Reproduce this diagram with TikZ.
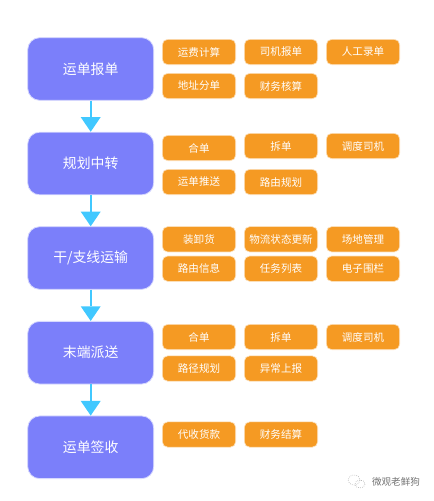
\documentclass[tikz,border=0pt]{standalone}
\usepackage{fontspec}
\setmainfont{Noto Sans CJK SC}
\usetikzlibrary{arrows.meta}
\definecolor{stageblue}{HTML}{7B7FFA}
\definecolor{taskorange}{HTML}{F59A23}
\definecolor{flowblue}{HTML}{41C8FF}
\tikzset{x=0.75pt,y=-0.75pt,
 stage/.style={draw=white!70!stageblue,line width=0.6pt,fill=stageblue,rounded corners=9pt,minimum width=94.5pt,minimum height=47pt,text=white,font=\fontsize{10.4pt}{13pt}\selectfont,inner sep=0pt},
 task/.style={draw=white!70!taskorange,line width=0.5pt,fill=taskorange,rounded corners=4pt,minimum width=55pt,minimum height=19pt,text=white,font=\fontsize{7.9pt}{9pt}\selectfont,inner sep=0pt},
 flow/.style={draw=flowblue,line width=1.4pt,-{Triangle[fill=flowblue,length=11pt,width=15pt,line width=0pt]}}}
\begin{document}
\begin{tikzpicture}
\useasboundingbox (0,0) rectangle (434,501);
\node[stage] (s1) at (90.7,69) {运单报单};
\node[stage] (s2) at (90.7,163.5) {规划中转};
\node[stage] (s3) at (90.7,258) {干/支线运输};
\node[stage] (s4) at (90.7,352.7) {末端派送};
\node[stage] (s5) at (90.7,447.3) {运单签收};
\draw[flow] (s1) -- (s2);
\draw[flow] (s2) -- (s3);
\draw[flow] (s3) -- (s4);
\draw[flow] (s4) -- (s5);
\node[task] (a1) at (199,52) {运费计算};
\node[task] (a2) at (281,52) {司机报单};
\node[task] (a3) at (363,52) {人工录单};
\node[task] (a4) at (199,86) {地址分单};
\node[task] (a5) at (281,86) {财务核算};
\node[task] (b1) at (199,148) {合单};
\node[task] (b2) at (281,146) {拆单};
\node[task] (b3) at (363,146) {调度司机};
\node[task] (b4) at (199,182) {运单推送};
\node[task] (b5) at (281,182) {路由规划};
\node[task] (c1) at (199,239.3) {装卸货};
\node[task] (c2) at (281,239.3) {物流状态更新};
\node[task] (c3) at (363,239.3) {场地管理};
\node[task] (c4) at (199,268.7) {路由信息};
\node[task] (c5) at (281,268.7) {任务列表};
\node[task] (c6) at (363,268.7) {电子围栏};
\node[task] (d1) at (199,337) {合单};
\node[task] (d2) at (281,337) {拆单};
\node[task] (d3) at (363,337) {调度司机};
\node[task] (d4) at (199,368.5) {路径规划};
\node[task] (d5) at (281,368.5) {异常上报};
\node[task] (e1) at (199,434.5) {代收货款};
\node[task] (e2) at (281,434.5) {财务结算};
\node[text=black!55,font=\fontsize{7.2pt}{8pt}\selectfont,inner sep=0pt] (w) at (396,482) {微观老鲜狗};
\draw[gray!60,densely dotted,line width=0.5pt] (354,480) ellipse (6 and 5);
\draw[gray!60,densely dotted,line width=0.5pt] (360,484) ellipse (5 and 4);
\end{tikzpicture}
\end{document}
